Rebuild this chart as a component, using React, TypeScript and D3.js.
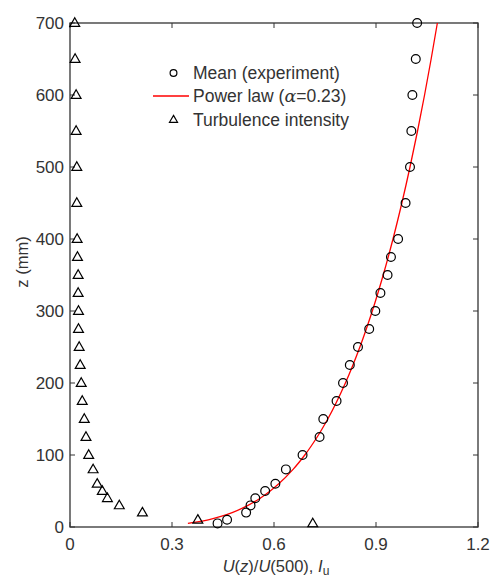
import React from "react";
import * as d3 from "d3";

const zMean = [5, 10, 20, 30, 40, 50, 60, 80, 100, 125, 150, 175, 200, 225, 250, 275, 300, 325, 350, 375, 400, 450, 500, 550, 600, 650, 700];
const meanU = [0.434, 0.462, 0.518, 0.531, 0.545, 0.574, 0.604, 0.635, 0.684, 0.734, 0.745, 0.784, 0.803, 0.823, 0.847, 0.880, 0.898, 0.913, 0.934, 0.944, 0.965, 0.987, 1.0, 1.004, 1.007, 1.017, 1.021];

const zTI = [5, 10, 20, 30, 40, 50, 60, 80, 100, 125, 150, 175, 200, 225, 250, 275, 300, 325, 350, 375, 400, 450, 500, 550, 600, 650, 700];
const tiValues = [0.714, 0.376, 0.213, 0.145, 0.110, 0.095, 0.080, 0.068, 0.055, 0.047, 0.042, 0.036, 0.033, 0.030, 0.027, 0.025, 0.025, 0.024, 0.024, 0.022, 0.021, 0.020, 0.020, 0.018, 0.018, 0.015, 0.014];

const alpha = 0.23;
const zRef = 500;
const zFit = [5, 7, 10, 15, 20, 30, 40, 50, 60, 80, 100, 125, 150, 200, 250, 300, 350, 400, 450, 500, 550, 600, 650, 700];

const xTicks = [0, 0.3, 0.6, 0.9, 1.2];
const yTicks = [0, 100, 200, 300, 400, 500, 600, 700];

const legendLabels = ["Mean (experiment)", "Power law", "Turbulence intensity"];

export default function App() {
  const W = 492, H = 579;
  const m = { left: 70, right: 478, top: 23, bottom: 527 };
  const x = d3.scaleLinear().domain([0, 1.2]).range([m.left, m.right]);
  const y = d3.scaleLinear().domain([0, 700]).range([m.bottom, m.top]);
  const font = "'Liberation Sans', Arial, Helvetica, sans-serif";
  const axisColor = "#333";
  const tickLen = 5;
  const fs = 17;

  const fitLine = d3
    .line<number>()
    .x((z) => x(Math.pow(z / zRef, alpha)))
    .y((z) => y(z))
    .curve(d3.curveMonotoneY)(zFit) as string;

  const tri = d3.symbol().type(d3.symbolTriangle).size(42)() as string;
  const triLegend = d3.symbol().type(d3.symbolTriangle).size(28)() as string;

  return (
    <svg
      width={W}
      height={H}
      style={{ position: "absolute", left: 0, top: 0, background: "#fff" }}
      fontFamily={font}
    >
      <rect x={0} y={0} width={W} height={H} fill="#fff" />
      <defs>
        <clipPath id="plotclip">
          <rect x={m.left} y={m.top - 1} width={m.right - m.left} height={m.bottom - m.top + 1} />
        </clipPath>
      </defs>

      {/* axes box */}
      <rect
        x={m.left}
        y={m.top}
        width={m.right - m.left}
        height={m.bottom - m.top}
        fill="none"
        stroke={axisColor}
        strokeWidth={1.3}
      />

      {/* x ticks */}
      {xTicks.map((t) => (
        <g key={"xt" + t}>
          <line x1={x(t)} x2={x(t)} y1={m.bottom} y2={m.bottom - tickLen} stroke={axisColor} strokeWidth={1} />
          <line x1={x(t)} x2={x(t)} y1={m.top} y2={m.top + tickLen} stroke={axisColor} strokeWidth={1} />
          <text x={x(t)} y={549.5} textAnchor="middle" fontSize={fs} fill={axisColor}>
            {t === 0 ? "0" : d3.format(".1f")(t)}
          </text>
        </g>
      ))}

      {/* y ticks */}
      {yTicks.map((t) => (
        <g key={"yt" + t}>
          <line x1={m.left} x2={m.left + tickLen} y1={y(t)} y2={y(t)} stroke={axisColor} strokeWidth={1} />
          <line x1={m.right} x2={m.right - tickLen} y1={y(t)} y2={y(t)} stroke={axisColor} strokeWidth={1} />
          <text x={64} y={y(t)} dy="0.36em" textAnchor="end" fontSize={fs} fill={axisColor}>
            {t}
          </text>
        </g>
      ))}

      {/* axis labels */}
      <text x={276} y={571.5} textAnchor="middle" fontSize={16.5} fill={axisColor}>
        <tspan fontStyle="italic">U</tspan>(<tspan fontStyle="italic">z</tspan>)/<tspan fontStyle="italic">U</tspan>(500),{" "}
        <tspan fontStyle="italic">I</tspan>
        <tspan fontSize={12} dy={3}>u</tspan>
      </text>
      <text
        transform={`translate(27.5, 262) rotate(-90)`}
        textAnchor="middle"
        fontSize={16.5}
        fill={axisColor}
      >
        z (mm)
      </text>

      <g clipPath="url(#plotclip)">
        {/* power law */}
        <path d={fitLine} fill="none" stroke="#ff0000" strokeWidth={1.3} />
      </g>

      {/* mean circles */}
      {zMean.map((z, i) => (
        <circle
          key={"c" + i}
          cx={x(meanU[i])}
          cy={y(z)}
          r={4.4}
          fill="none"
          stroke="#000"
          strokeWidth={1.2}
        />
      ))}

      {/* turbulence intensity triangles */}
      {zTI.map((z, i) => (
        <path
          key={"t" + i}
          d={tri}
          transform={`translate(${x(tiValues[i])},${y(z) + 0.5})`}
          fill="none"
          stroke="#000"
          strokeWidth={1.2}
        />
      ))}

      {/* legend */}
      <g fontSize={17.5} fill={axisColor}>
        <circle cx={173.5} cy={73} r={3.4} fill="none" stroke="#000" strokeWidth={1.2} />
        <text x={193} y={73} dy="0.36em">{legendLabels[0]}</text>
        <line x1={153} x2={189} y1={96} y2={96} stroke="#ff0000" strokeWidth={1.3} />
        <text x={193} y={96} dy="0.36em">
          {legendLabels[1]} (
          <tspan fontFamily="'DejaVu Serif', 'Liberation Serif', serif" fontStyle="italic">α</tspan>
          =0.23)
        </text>
        <path d={triLegend} transform="translate(173.5,120)" fill="none" stroke="#000" strokeWidth={1.2} />
        <text x={193} y={120} dy="0.36em">{legendLabels[2]}</text>
      </g>
    </svg>
  );
}
